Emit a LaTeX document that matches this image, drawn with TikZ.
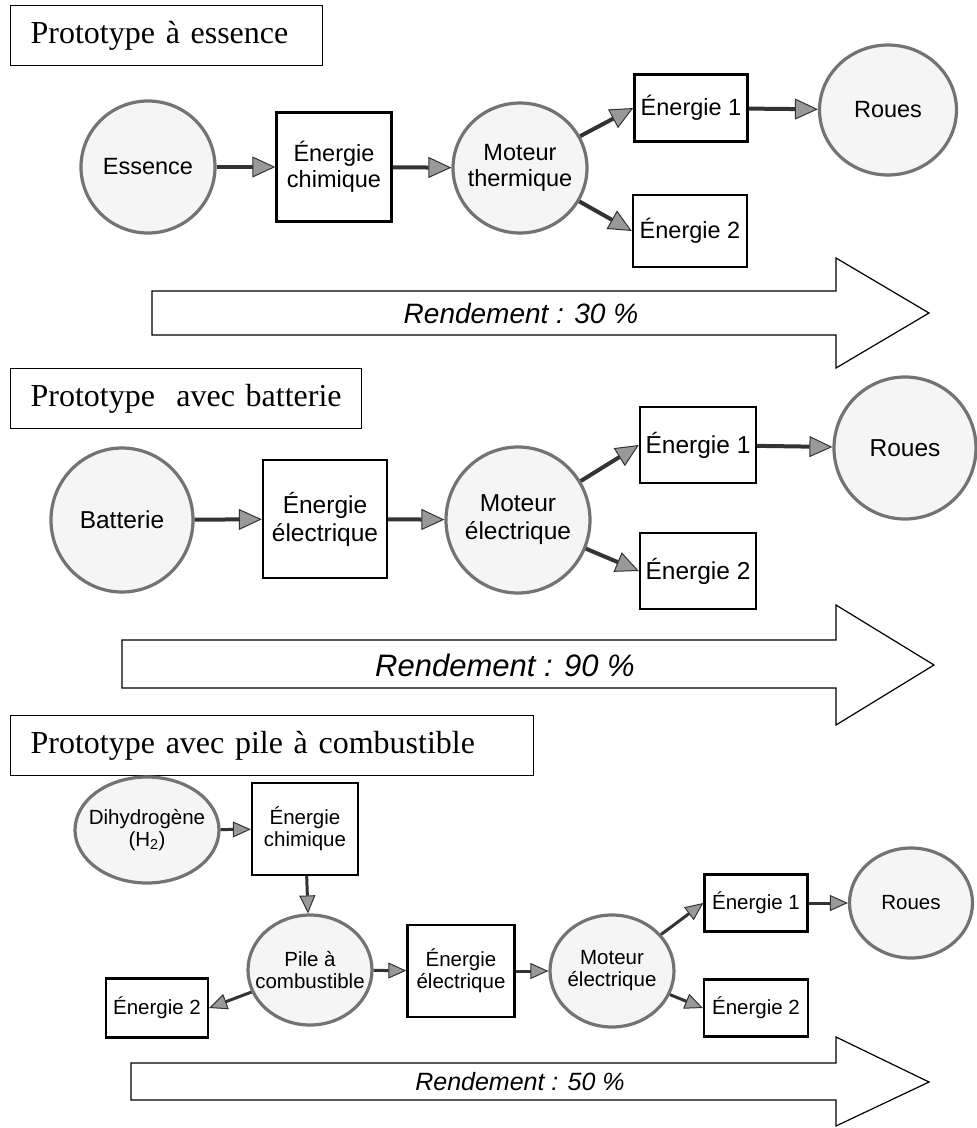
\documentclass[tikz,border=0pt]{standalone}
\usepackage{fontspec}
\setmainfont{Liberation Serif}
\newfontfamily\arialfont{Liberation Sans}
\usepackage{tikz}
\usetikzlibrary{positioning, shapes.geometric, arrows.meta}
\tikzstyle{box} = [rectangle, draw, line width=2.4pt, fill=white,
                 align=center, inner sep=1pt]
\tikzstyle{bubble} = [ellipse, draw=black!55, line width=3.2pt, fill=black!4,
                 align=center, inner sep=-22pt]
\tikzstyle{flow} = [draw=black!80, line width=4pt,
                 -{Triangle[length=23pt,width=21pt,fill=black!40,line width=1pt]}]
\tikzstyle{flowsmall} = [draw=black!80, line width=3pt,
                 -{Triangle[length=18pt,width=16pt,fill=black!40,line width=1pt]}]
\tikzset{
	titlebox/.style={draw, line width=1.3pt, anchor=north west, align=left,
		inner xsep=20pt, minimum height=60pt, font=\fontsize{32}{36}\selectfont},
	bigarrow/.style={draw, line width=1.2pt, fill=white},
	rendement/.style={font=\arialfont\itshape\fontsize{#1}{#1}\selectfont},
	rendement/.default=28,
	textA/.style={font=\arialfont\fontsize{23.5}{26}\selectfont},
	textB/.style={font=\arialfont\fontsize{24.5}{28}\selectfont},
	textC/.style={font=\arialfont\fontsize{20.5}{22}\selectfont},
}

\begin{document}
\begin{tikzpicture}[x=1pt, y=-1pt]

\useasboundingbox (0,0) rectangle (977,1128);

% Prototype a essence
\node [titlebox, text width=272pt] at (10,5) (titleA) {Prototype à essence};

\node [bubble, textA, minimum width=134pt, minimum height=132pt] at (148,167) (essence) {Essence};
\node [box, textA, minimum width=115pt, minimum height=109pt] at (334,167) (chimA) {Énergie\\chimique};
\node [bubble, textA, minimum width=134pt, minimum height=130pt] at (520,168) (moteurA) {Moteur\\thermique};
\node [box, textA, minimum width=113pt, minimum height=67pt] at (691,108) (unA) {Énergie 1};
\node [box, textA, minimum width=114pt, minimum height=72pt] at (690,231) (deuxA) {Énergie 2};
\node [bubble, textA, minimum width=137pt, minimum height=130pt] at (888,110) (rouesA) {Roues};

\path [flow] (essence) -- (chimA);
\path [flow] (chimA) -- (moteurA);
\path [flow] (moteurA) -- (unA.west);
\path [flow] (moteurA) -- (deuxA.west);
\path [flow] (unA) -- (rouesA);

\draw [bigarrow] (152,291) -- (836,291) -- (836,258) -- (929,313)
	-- (836,368) -- (836,335) -- (152,335) -- cycle;
\node [rendement] at (521,313) (rendA) {Rendement : 30 \%};

% Prototype avec batterie
\node [titlebox, text width=311pt] at (10,368) (titleB) {Prototype\ \ avec batterie};

\node [bubble, textB, minimum width=142pt, minimum height=144pt] at (122,520) (batterie) {Batterie};
\node [box, textB, minimum width=124pt, minimum height=118pt] at (325,519) (elecB) {Énergie\\électrique};
\node [bubble, textB, minimum width=144pt, minimum height=146pt] at (518,520) (moteurB) {Moteur\\électrique};
\node [box, textB, minimum width=116pt, minimum height=76pt] at (698,445) (unB) {Énergie 1};
\node [box, textB, minimum width=116pt, minimum height=76pt] at (698,571) (deuxB) {Énergie 2};
\node [bubble, textB, minimum width=142pt, minimum height=142pt] at (905,448) (rouesB) {Roues};

\path [flow] (batterie) -- (elecB);
\path [flow] (elecB) -- (moteurB);
\path [flow] (moteurB) -- (unB.west);
\path [flow] (moteurB) -- (deuxB.west);
\path [flow] (unB) -- (rouesB);

\draw [bigarrow] (122,640) -- (836,640) -- (836,605) -- (934,665)
	-- (836,725) -- (836,688) -- (122,688) -- cycle;
\node [rendement=31] at (505,665) (rendB) {Rendement : 90 \%};

% Prototype avec pile a combustible
\node [titlebox, text width=483pt] at (10,715) (titleC) {Prototype avec pile à combustible};

\node [bubble, textC, minimum width=144pt, minimum height=106pt] at (147,830) (dihydro) {Dihydrogène\\(H\textsubscript{2})};
\node [box, textC, minimum width=106pt, minimum height=92pt] at (305,829) (chimC) {Énergie\\chimique};
\node [bubble, textC, minimum width=124pt, minimum height=110pt] at (310,970) (pile) {Pile à\\combustible};
\node [box, textC, minimum width=102pt, minimum height=59pt] at (157,1008) (deuxPile) {Énergie 2};
\node [box, textC, minimum width=107pt, minimum height=92pt] at (461,971) (elecC) {Énergie\\électrique};
\node [bubble, textC, minimum width=124pt, minimum height=112pt] at (612,971) (moteurC) {Moteur\\électrique};
\node [box, textC, minimum width=103pt, minimum height=57pt] at (756,903) (unC) {Énergie 1};
\node [box, textC, minimum width=104pt, minimum height=57pt] at (756,1008) (deuxC) {Énergie 2};
\node [bubble, textC, minimum width=123pt, minimum height=110pt] at (911,903) (rouesC) {Roues};

\path [flowsmall] (dihydro) -- (chimC);
\path [flowsmall] (chimC) -- (pile);
\path [flowsmall] (pile) -- (deuxPile.east);
\path [flowsmall] (pile) -- (elecC);
\path [flowsmall] (elecC) -- (moteurC);
\path [flowsmall] (moteurC) -- (unC.west);
\path [flowsmall] (moteurC) -- (deuxC.west);
\path [flowsmall] (unC) -- (rouesC);

\draw [bigarrow] (131,1063) -- (836,1063) -- (836,1037) -- (929,1082)
	-- (836,1126) -- (836,1100) -- (131,1100) -- cycle;
\node [rendement=25] at (520,1082) (rendC) {Rendement : 50 \%};

\end{tikzpicture}
\end{document}
